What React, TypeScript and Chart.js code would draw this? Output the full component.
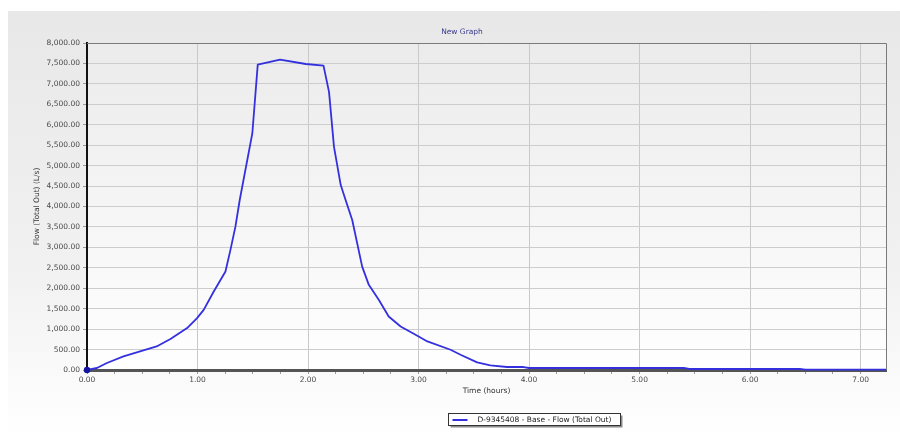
import React, { useEffect, useRef } from "react";
import { Chart, registerables } from "chart.js";

Chart.register(...registerables);

const timeHours: number[] = [
  0.0, 0.09, 0.18, 0.33, 0.63, 0.755, 0.906, 0.996, 1.056, 1.147, 1.253, 1.298,
  1.343, 1.382, 1.496, 1.545, 1.747, 1.98, 2.14, 2.19, 2.235, 2.296, 2.34, 2.4,
  2.49, 2.55, 2.64, 2.73, 2.838, 2.989, 3.08, 3.29, 3.38, 3.53, 3.65, 3.8, 3.95,
  4.0, 5.4, 5.45, 6.45, 6.5, 7.23,
];
const flowLs: number[] = [
  0, 49, 171, 332, 576, 757, 1025, 1270, 1472, 1920, 2408, 2938, 3507, 4159,
  5787, 7472, 7595, 7486, 7448, 6803, 5460, 4525, 4159, 3670, 2530, 2083, 1717,
  1309, 1065, 838, 698, 496, 374, 186, 112, 73, 73, 49, 49, 25, 25, 10, 10,
];

const chartTitle = "New Graph";
const seriesLabel = "D-9345408 - Base - Flow (Total Out)";
const xAxisTitle = "Time (hours)";
const yAxisTitle = "Flow (Total Out) (L/s)";
const xMin = 0;
const xMax = 7.23;
const yMin = 0;
const yMax = 8000;

const FONT = "'DejaVu Sans', Verdana, sans-serif";
const LINE_COLOR = "rgb(52, 48, 222)";

const decorPlugin = {
  id: "decor",
  beforeDraw(chart: any) {
    const { ctx, chartArea } = chart;
    const { left, top, right, bottom } = chartArea;
    ctx.save();
    const g = ctx.createLinearGradient(0, top, 0, bottom);
    g.addColorStop(0, "#ebebeb");
    g.addColorStop(1, "#ffffff");
    ctx.fillStyle = g;
    ctx.fillRect(left, top, right - left, bottom - top);
    ctx.restore();
  },
  afterDraw(chart: any) {
    const { ctx, chartArea } = chart;
    const { left, top, right, bottom } = chartArea;
    ctx.save();
    ctx.strokeStyle = "#7a7a7a";
    ctx.lineWidth = 1;
    ctx.beginPath();
    ctx.moveTo(left, top + 0.5);
    ctx.lineTo(right + 0.5, top + 0.5);
    ctx.lineTo(right + 0.5, bottom);
    ctx.stroke();

    ctx.font = `7.5px ${FONT}`;
    ctx.fillStyle = "#3a3a8c";
    ctx.textAlign = "center";
    ctx.textBaseline = "middle";
    ctx.fillText(chartTitle, 462, 32);

    const lx = 448.5;
    const ly = 413.5;
    const lw = 172;
    const lh = 12;
    ctx.fillStyle = "#8a8a8a";
    ctx.fillRect(lx + 2, ly + 2, lw, lh);
    ctx.fillStyle = "#ffffff";
    ctx.fillRect(lx, ly, lw, lh);
    ctx.strokeStyle = "#333333";
    ctx.strokeRect(lx, ly, lw, lh);
    ctx.strokeStyle = LINE_COLOR;
    ctx.lineWidth = 2;
    ctx.beginPath();
    ctx.moveTo(lx + 4, ly + 6.5);
    ctx.lineTo(lx + 19, ly + 6.5);
    ctx.stroke();
    ctx.fillStyle = "#222222";
    ctx.textAlign = "left";
    ctx.fillText(seriesLabel, lx + 29, ly + 6.5);
    ctx.restore();
  },
};

export default function App() {
  const canvasRef = useRef<HTMLCanvasElement | null>(null);

  useEffect(() => {
    if (!canvasRef.current) return;
    Chart.defaults.font.family = FONT;
    Chart.defaults.font.size = 7.5;
    const points = timeHours.map((t, i) => ({ x: t, y: flowLs[i] }));
    const chart = new Chart(canvasRef.current, {
      type: "line",
      data: {
        datasets: [
          {
            label: seriesLabel,
            data: points,
            borderColor: LINE_COLOR,
            backgroundColor: "#1414a0",
            borderWidth: 1.8,
            tension: 0,
            borderJoinStyle: "round",
            pointRadius: (c: any) => (c.dataIndex === 0 ? 3.2 : 0),
            pointBackgroundColor: "#1414a0",
            pointBorderColor: "#1414a0",
            pointBorderWidth: 0,
            clip: false as any,
          },
        ],
      },
      plugins: [decorPlugin],
      options: {
        animation: false,
        responsive: false,
        maintainAspectRatio: false,
        layout: { padding: { left: 30, top: 43, right: 14, bottom: 41 } },
        plugins: {
          legend: { display: false },
          title: { display: false },
          tooltip: { enabled: false },
        },
        scales: {
          x: {
            type: "linear",
            min: xMin,
            max: xMax,
            afterFit: (s: any) => {
              s.height = 26;
            },
            border: { color: "#555555", width: 3 },
            grid: {
              color: (c: any) =>
                c.tick && Math.abs(c.tick.value % 1) < 1e-9 ? "#c9c9c9" : "rgba(0,0,0,0)",
              tickColor: "#9a9a9a",
              tickLength: 4,
            },
            ticks: {
              stepSize: 0.25,
              autoSkip: false,
              maxRotation: 0,
              includeBounds: false,
              padding: 2,
              color: "#4a4a4a",
              font: { size: 7.5 },
              callback: (v: any) =>
                Math.abs(Number(v) % 1) < 1e-9 ? Number(v).toFixed(2) : "",
            },
            title: {
              display: true,
              text: xAxisTitle,
              color: "#333333",
              font: { size: 7.5 },
              padding: { top: 0, bottom: 0 },
            },
          },
          y: {
            type: "linear",
            min: yMin,
            max: yMax,
            afterFit: (s: any) => {
              s.width = 57;
            },
            border: { color: "#111111", width: 2 },
            grid: {
              color: "#cdcdcd",
              tickColor: "#9a9a9a",
              tickLength: 4,
            },
            ticks: {
              stepSize: 500,
              padding: 3,
              color: "#4a4a4a",
              font: { size: 7.5 },
              callback: (v: any) =>
                Number(v).toLocaleString("en-US", {
                  minimumFractionDigits: 2,
                  maximumFractionDigits: 2,
                }),
            },
            title: {
              display: true,
              text: yAxisTitle,
              color: "#333333",
              font: { size: 7.5 },
              padding: { top: 3, bottom: 0 },
            },
          },
        },
      } as any,
    });
    return () => chart.destroy();
  }, []);

  return (
    <div
      style={{
        position: "fixed",
        left: 0,
        top: 0,
        width: 900,
        height: 437,
        background: "#ffffff",
        overflow: "hidden",
      }}
    >
      <div
        style={{
          position: "absolute",
          left: 8,
          top: 11,
          width: 892,
          height: 426,
          background: "linear-gradient(to bottom, #e8e8e8 0%, #f1f1f1 60%, #ffffff 100%)",
        }}
      />
      <canvas
        ref={canvasRef}
        width={900}
        height={437}
        style={{ position: "absolute", left: 0, top: 0, width: 900, height: 437 }}
      />
    </div>
  );
}
